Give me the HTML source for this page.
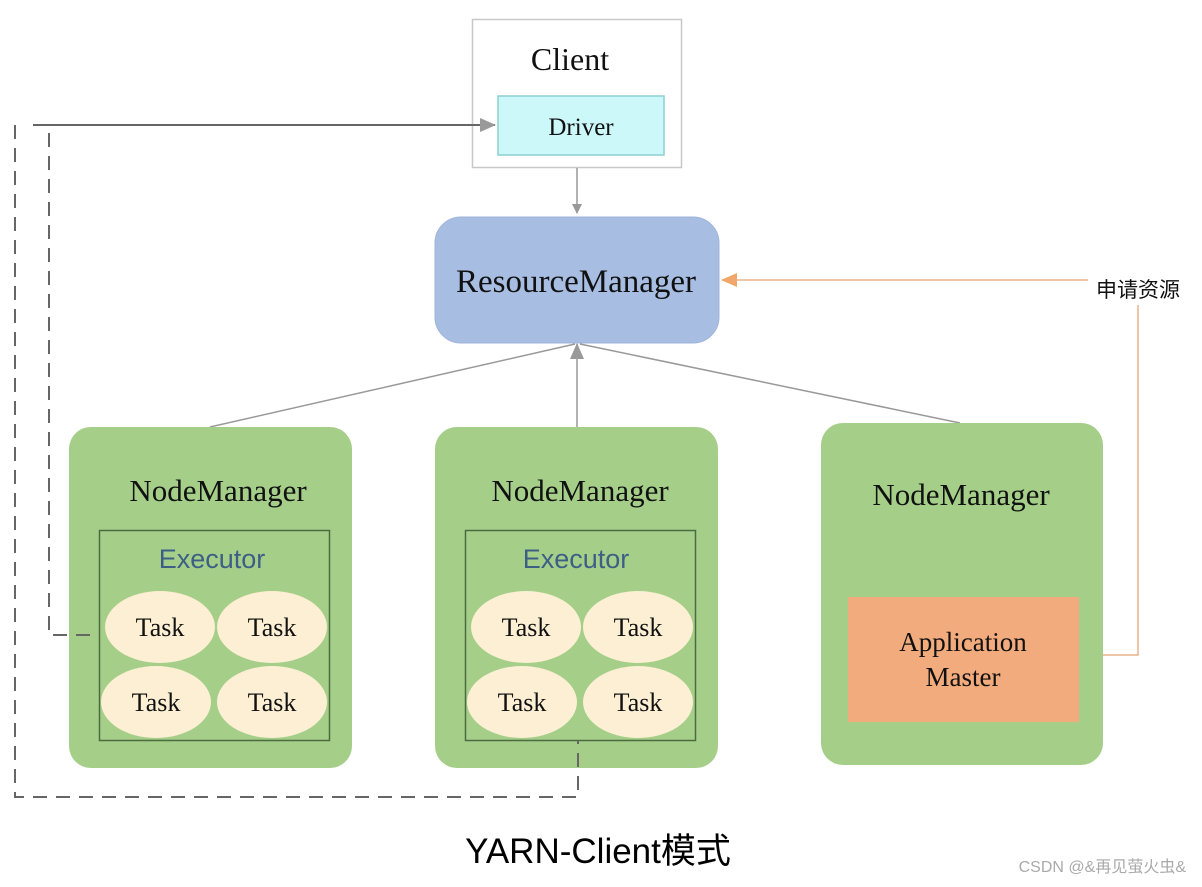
<!DOCTYPE html>
<html><head><meta charset="utf-8"><style>
html,body{margin:0;padding:0;background:#fff;}
svg{display:block;}
.serif{font-family:"Liberation Serif","Noto Serif CJK SC",serif;}
.sans{font-family:"Liberation Sans","Noto Sans CJK SC",sans-serif;}
</style></head><body>
<svg width="1202" height="887" viewBox="0 0 1202 887" xmlns="http://www.w3.org/2000/svg">
<defs>
<marker id="ag" markerWidth="10" markerHeight="10" refX="9" refY="5" orient="auto" markerUnits="userSpaceOnUse"><path d="M0,0 L10,5 L0,10 z" fill="#999"/></marker>
<marker id="ag2" markerWidth="16" markerHeight="14" refX="15" refY="7" orient="auto" markerUnits="userSpaceOnUse"><path d="M0,0 L16,7 L0,14 z" fill="#999"/></marker>
<marker id="ao" markerWidth="16" markerHeight="14" refX="15" refY="7" orient="auto" markerUnits="userSpaceOnUse"><path d="M0,0 L16,7 L0,14 z" fill="#f0a86a"/></marker>
</defs>
<!-- Client -->
<rect x="472.5" y="19.5" width="209" height="148" fill="#fff" stroke="#c8c8c8" stroke-width="1.5"/>
<text x="570" y="70" text-anchor="middle" class="serif" font-size="32" fill="#111">Client</text>
<rect x="498" y="96" width="166" height="59" fill="#ccf8fa" stroke="#8ccfd4" stroke-width="1.5"/>
<text x="581" y="135" text-anchor="middle" class="serif" font-size="25" fill="#111">Driver</text>
<!-- Client -> RM -->
<line x1="577" y1="168" x2="577" y2="213" stroke="#999" stroke-width="1.5" marker-end="url(#ag)"/>
<!-- RM -->
<rect x="435" y="217" width="284" height="126" rx="26" fill="#a8bde2" stroke="#9fb4da"/>
<text x="576" y="292" text-anchor="middle" class="serif" font-size="33" fill="#111">ResourceManager</text>
<!-- NM -> RM lines -->
<line x1="210" y1="427" x2="575" y2="344" stroke="#999" stroke-width="1.5"/>
<line x1="577" y1="427" x2="577" y2="344" stroke="#999" stroke-width="1.5" marker-end="url(#ag2)"/>
<line x1="960" y1="423" x2="580" y2="344" stroke="#999" stroke-width="1.5"/>
<!-- Orange connector -->
<polyline points="1079,655 1138,655 1138,305" fill="none" stroke="#e8b48a" stroke-width="1.5"/>
<line x1="1088" y1="280" x2="722" y2="280" stroke="#e8b48a" stroke-width="1.5" marker-end="url(#ao)"/>
<text x="1138" y="297" text-anchor="middle" class="sans" font-size="21" fill="#111">申请资源</text>
<!-- NodeManagers -->
<rect x="69" y="427" width="283" height="341" rx="22" fill="#a5cf88"/>
<rect x="435" y="427" width="283" height="341" rx="22" fill="#a5cf88"/>
<rect x="821" y="423" width="282" height="342" rx="22" fill="#a5cf88"/>
<text x="218" y="501" text-anchor="middle" class="serif" font-size="31" fill="#111">NodeManager</text>
<text x="580" y="501" text-anchor="middle" class="serif" font-size="31" fill="#111">NodeManager</text>
<text x="961" y="505" text-anchor="middle" class="serif" font-size="31" fill="#111">NodeManager</text>
<!-- Executors -->
<rect x="99.5" y="530.5" width="230" height="210" fill="none" stroke="#4d6b40" stroke-width="1.5"/>
<rect x="465.5" y="530.5" width="230" height="210" fill="none" stroke="#4d6b40" stroke-width="1.5"/>
<text x="212" y="568" text-anchor="middle" class="sans" font-size="27" fill="#3d5f86">Executor</text>
<text x="576" y="568" text-anchor="middle" class="sans" font-size="27" fill="#3d5f86">Executor</text>
<g fill="#fcefd3">
<ellipse cx="160" cy="627" rx="55" ry="36"/><ellipse cx="272" cy="627" rx="55" ry="36"/>
<ellipse cx="156" cy="702" rx="55" ry="36"/><ellipse cx="272" cy="702" rx="55" ry="36"/>
<ellipse cx="526" cy="627" rx="55" ry="36"/><ellipse cx="638" cy="627" rx="55" ry="36"/>
<ellipse cx="522" cy="702" rx="55" ry="36"/><ellipse cx="638" cy="702" rx="55" ry="36"/>
</g>
<g class="serif" font-size="26" fill="#111" text-anchor="middle">
<text x="160" y="636">Task</text><text x="272" y="636">Task</text>
<text x="156" y="711">Task</text><text x="272" y="711">Task</text>
<text x="526" y="636">Task</text><text x="638" y="636">Task</text>
<text x="522" y="711">Task</text><text x="638" y="711">Task</text>
</g>
<!-- Application Master -->
<rect x="848" y="597" width="231" height="125" fill="#f2ab7c"/>
<text x="963" y="651" text-anchor="middle" class="serif" font-size="27" fill="#111">Application</text>
<text x="963" y="686" text-anchor="middle" class="serif" font-size="27" fill="#111">Master</text>
<!-- Dashed connectors to Driver -->
<line x1="33" y1="125" x2="495" y2="125" stroke="#666" stroke-width="2" marker-end="url(#ag2)"/>
<polyline points="15,125 15,797 578,797 578,741" fill="none" stroke="#666" stroke-width="2" stroke-dasharray="14,9"/>
<polyline points="49,133 49,635 99,635" fill="none" stroke="#666" stroke-width="2" stroke-dasharray="14,9"/>
<!-- Caption -->
<text x="598" y="863" text-anchor="middle" class="sans" font-size="35" fill="#000">YARN-Client模式</text>
<text x="1186" y="872" text-anchor="end" class="sans" font-size="16" fill="#aaa">CSDN @&amp;再见萤火虫&amp;</text>
</svg>
</body></html>
